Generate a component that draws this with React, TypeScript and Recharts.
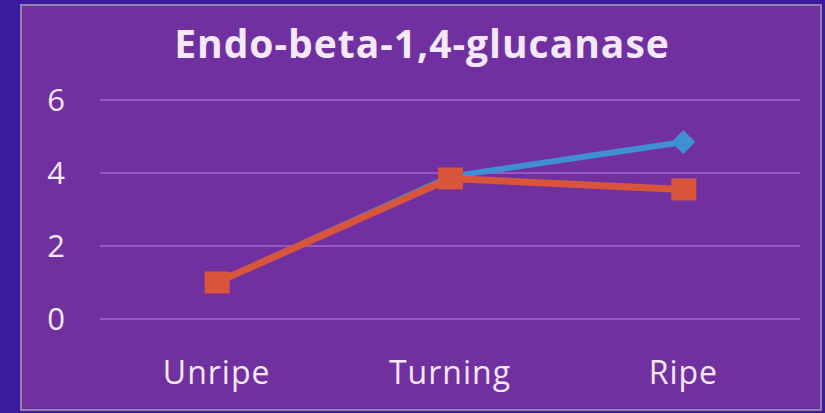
import { LineChart, Line, XAxis, YAxis, CartesianGrid } from "recharts"

const STAGES = ["Unripe", "Turning", "Ripe"]
const SERIES_1 = [1.0, 3.9, 4.85]
const SERIES_2 = [1.0, 3.85, 3.55]
const Y_TICKS = [0, 2, 4, 6]

const DATA = STAGES.map((stage, i) => ({ stage, s1: SERIES_1[i], s2: SERIES_2[i] }))

const TEXT = "#f4e8fa"
const FONT = "'Open Sans', Lato, sans-serif"

const Diamond = (props: any) => {
  const { cx, cy, index } = props
  if (index !== STAGES.length - 1) return <g key={index} />
  return <polygon key={index} points={`${cx},${cy - 12} ${cx + 12},${cy} ${cx},${cy + 12} ${cx - 12},${cy}`} fill="#3f8fd4" />
}

const Square = (props: any) => {
  const { cx, cy, index } = props
  return <rect key={index} x={cx - 12} y={cy - 11} width={25} height={22} fill="#d8553c" />
}

export default function App() {
  return (
    <div style={{ position: "absolute", left: 0, top: 0, width: 825, height: 413, background: "#3b1a9f", overflow: "hidden" }}>
      <div
        style={{
          position: "absolute",
          left: 20,
          top: 4,
          width: 802,
          height: 407,
          boxSizing: "border-box",
          border: "2px solid #9080aa",
          background: "#7030a0",
        }}
      >
        <div
          style={{
            position: "absolute",
            left: 0,
            right: 0,
            top: 10,
            textAlign: "center",
            fontFamily: FONT,
            fontWeight: 700,
            fontSize: 39,
            letterSpacing: 1,
            lineHeight: "normal",
            color: TEXT,
            paddingLeft: 2,
          }}
        >
          Endo-beta-1,4-glucanase
        </div>
        <div style={{ position: "absolute", left: 0, top: 0 }}>
          <LineChart width={798} height={403} data={DATA} margin={{ top: 94, right: 20, bottom: 0, left: 0 }}>
            <CartesianGrid vertical={false} stroke="#9858c0" strokeWidth={2} />
            <XAxis
              dataKey="stage"
              scale="band"
              axisLine={false}
              tickLine={false}
              tickSize={0}
              tickMargin={42}
              height={90}
              tick={{ fill: TEXT, fontSize: 32, fontFamily: FONT, letterSpacing: 1 }}
            />
            <YAxis
              domain={[0, 6]}
              ticks={Y_TICKS}
              width={78}
              axisLine={false}
              tickLine={false}
              tickSize={0}
              tickMargin={35}
              tick={{ fill: TEXT, fontSize: 31, fontFamily: FONT }}
            />
            <Line dataKey="s1" stroke="#3f8fd4" strokeWidth={6} dot={Diamond} isAnimationActive={false} />
            <Line dataKey="s2" stroke="#d8553c" strokeWidth={7} dot={Square} isAnimationActive={false} />
          </LineChart>
        </div>
      </div>
    </div>
  )
}
